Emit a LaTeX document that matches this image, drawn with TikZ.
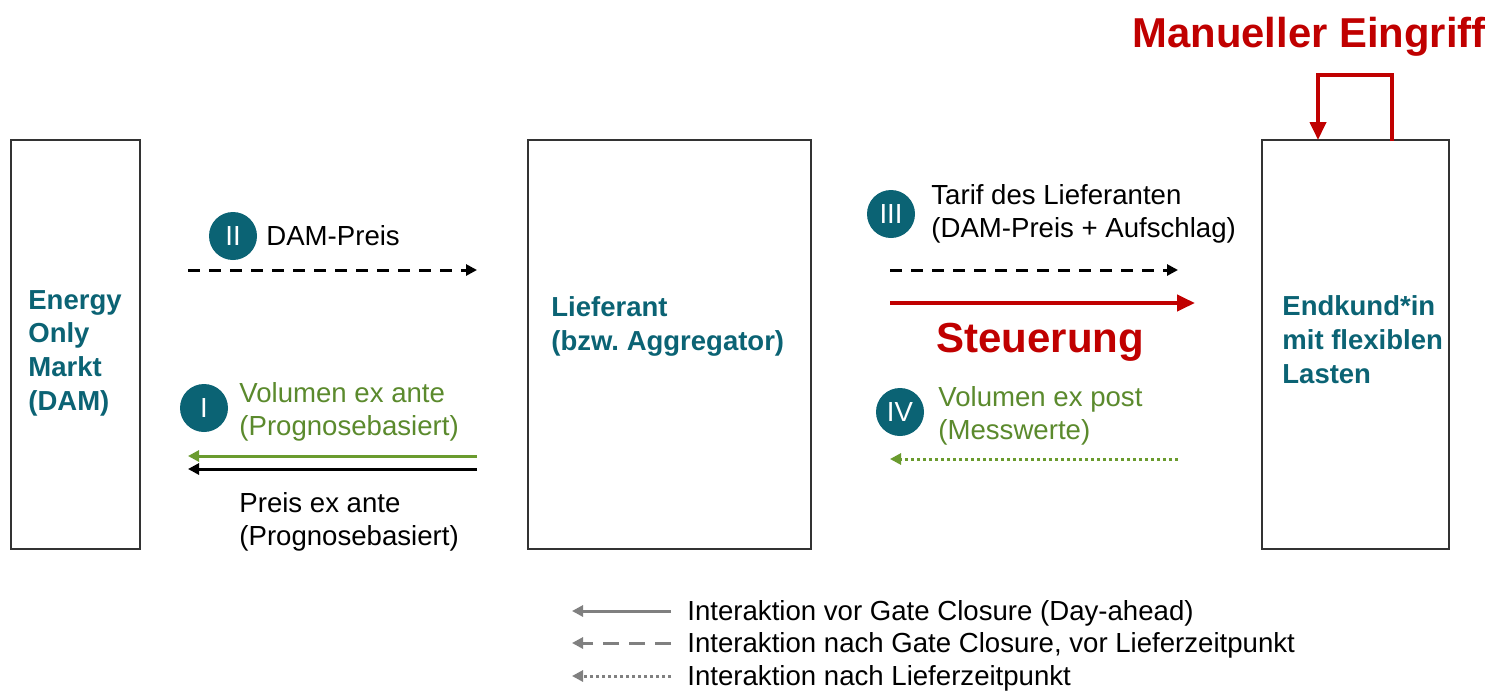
\documentclass[tikz,border=0pt]{standalone}
\usepackage{fontspec}
\setmainfont{Liberation Sans}
\usetikzlibrary{arrows.meta}
\definecolor{teal}{HTML}{0B6374}
\definecolor{olive}{HTML}{5B8A2D}
\definecolor{olivearrow}{HTML}{6A9B2E}
\definecolor{ctrlred}{HTML}{C00000}
\definecolor{legendgray}{HTML}{808080}
\definecolor{boxline}{HTML}{333333}
\frenchspacing
\tikzset{
  actor/.style={draw=boxline, line width=0.8pt, fill=white, inner sep=0pt},
  actorlabel/.style={anchor=base west, inner sep=0pt, align=left, text=teal,
    font=\fontsize{13.75}{16.8}\selectfont\bfseries},
  msg/.style={anchor=base west, inner sep=0pt, align=left,
    font=\fontsize{13.8}{16.75}\selectfont},
  numcirc/.style={circle, fill=teal, text=white, minimum size=24pt, inner sep=0pt,
    font=\fontsize{13.8}{16.75}\selectfont},
  smalltip/.style={-{Triangle[length=5.5pt,width=5.5pt]}},
  flow/.style={line width=1.5pt, smalltip},
  dashflow/.style={flow, dash pattern=on 6pt off 4.5pt},
  dotflow/.style={flow, dash pattern=on 1.5pt off 1.5pt},
  ctrl/.style={draw=ctrlred, line width=2pt, -{Triangle[length=9pt,width=8pt]}},
}
\begin{document}
\begin{tikzpicture}[x=0.5pt, y=-0.5pt]
  % canvas
  \fill[white] (0,0) rectangle (1494,691);
  \useasboundingbox (0,0) rectangle (1494,691);

  % actors
  \node[actor, minimum width=64.5pt, minimum height=204.5pt] (dam) at (75.5,344.5) {};
  \node[actor, minimum width=141.5pt, minimum height=204.5pt] (lief) at (669.5,344.5) {};
  \node[actor, minimum width=93.5pt, minimum height=204.5pt] (kunde) at (1355.5,344.5) {};

  % labels are placed by the baseline of their last line
  \node[actorlabel] (damlabel) at (28,410) {Energy\\Only\\Markt\\(DAM)};
  \node[actorlabel] (lieflabel) at (551,350) {Lieferant\\(bzw. Aggregator)};
  \node[actorlabel] (kundelabel) at (1282,383) {Endkund*in\\mit flexiblen\\Lasten};

  % step II: day-ahead price
  \node[numcirc] (cII) at (233,236) {II};
  \node[msg] (damp) at (266,245) {DAM-Preis};
  \coordinate (IIa) at (188,270);
  \coordinate (IIb) at (477,270);
  \draw[dashflow] (IIa) -- (IIb);

  % step I: ex-ante volume and price
  \node[numcirc] (cI) at (204,408) {I};
  \node[msg, text=olive] (volante) at (239,435.5) {Volumen ex ante\\(Prognosebasiert)};
  \node[msg] (preisante) at (239,545.5) {Preis ex ante\\(Prognosebasiert)};
  \coordinate (Ia) at (477,456);
  \coordinate (Ib) at (188,456);
  \coordinate (Ic) at (477,469);
  \coordinate (Id) at (188,469);
  \draw[flow, olivearrow] (Ia) -- (Ib);
  \draw[flow, black] (Ic) -- (Id);

  % step III: tariff
  \node[numcirc] (cIII) at (891,214) {III};
  \node[msg] (tarif) at (931,237.5) {Tarif des Lieferanten\\(DAM-Preis + Aufschlag)};
  \coordinate (IIIa) at (890,270);
  \coordinate (IIIb) at (1178,270);
  \draw[dashflow] (IIIa) -- (IIIb);

  % control signal
  \coordinate (Sa) at (890,303);
  \coordinate (Sb) at (1195,303);
  \draw[ctrl] (Sa) -- (Sb);
  \node[anchor=base west, inner sep=0pt, text=ctrlred,
    font=\fontsize{21}{25}\selectfont\bfseries] (steu) at (936,352) {Steuerung};

  % step IV: ex-post volume
  \node[numcirc] (cIV) at (900,412) {IV};
  \node[msg, text=olive] (volpost) at (938,439.5) {Volumen ex post\\(Messwerte)};
  \coordinate (IVa) at (1178,459);
  \coordinate (IVb) at (890,459);
  \draw[dotflow, olivearrow] (IVa) -- (IVb);

  % manual intervention loop
  \coordinate (La) at (1392,141);
  \coordinate (Lb) at (1318,75);
  \coordinate (Lc) at (1318,140);
  \draw[ctrl, line join=miter] (La) |- (Lb) -- (Lc);
  \node[anchor=base, inner sep=0pt, text=ctrlred,
    font=\fontsize{20.9}{25}\selectfont\bfseries] (manuell) at (1309,47) {Manueller Eingriff};

  % legend
  \coordinate (G1a) at (671,611);
  \coordinate (G1b) at (572,611);
  \coordinate (G2a) at (671,643);
  \coordinate (G2b) at (572,643);
  \coordinate (G3a) at (671,676);
  \coordinate (G3b) at (572,676);
  \draw[flow, legendgray] (G1a) -- (G1b);
  \draw[flow, legendgray, dash pattern=on 8pt off 5pt] (G2a) -- (G2b);
  \draw[dotflow, legendgray] (G3a) -- (G3b);
  \node[msg] (leg1) at (687,620) {Interaktion vor Gate Closure (Day-ahead)};
  \node[msg] (leg2) at (687,652) {Interaktion nach Gate Closure, vor Lieferzeitpunkt};
  \node[msg] (leg3) at (687,685) {Interaktion nach Lieferzeitpunkt};
\end{tikzpicture}
\end{document}
